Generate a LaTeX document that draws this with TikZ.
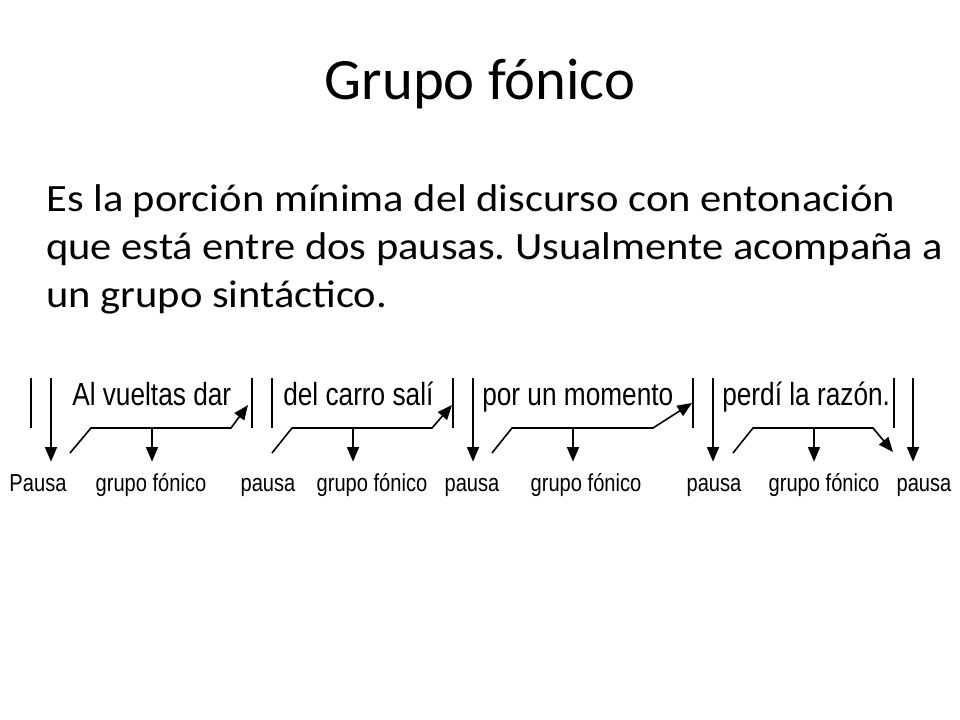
\documentclass[tikz,border=0pt]{standalone}
\usepackage{fontspec}
\setmainfont{Carlito}
\newfontfamily\cuerpo[FakeStretch=1.10]{Carlito}
\newfontfamily\diagfont[FakeStretch=0.82]{Liberation Sans}
\usetikzlibrary{arrows.meta}
\frenchspacing
\tikzset{%
  titulo/.style={anchor=base,inner sep=0pt,font=\fontsize{44}{52}\selectfont},
  linea/.style={anchor=base west,inner sep=0pt,font=\cuerpo\fontsize{29}{35}\selectfont},
  etiqueta/.style={anchor=base,inner xsep=0pt,inner ysep=8.8pt,text height=13pt,
    font=\diagfont\fontsize{18.4}{20}\selectfont},
  frase/.style={anchor=base west,inner sep=0pt,font=\diagfont\fontsize{24}{28}\selectfont},
  barra/.style={line width=1.2pt},
  flecha/.style={line width=1.2pt,-{Triangle[length=11pt,width=9pt]}},
  tramo/.style={flecha,line join=miter}
}

\begin{document}
\begin{tikzpicture}[x=0.75pt,y=-0.75pt]
  \useasboundingbox (0,0) rectangle (960,720);

  \node [titulo] (tit) at (480,100) {Grupo fónico};
  \node [linea]  (l1)  at (46,212) {Es la porción mínima del discurso con entonación};
  \node [linea]  (l2)  at (46,260) {que está entre dos pausas. Usualmente acompaña a};
  \node [linea]  (l3)  at (46,307) {un grupo sintáctico.};

  \node [etiqueta] (p0) at (38,491)  {Pausa};
  \node [etiqueta] (g1) at (151,491) {grupo fónico};
  \node [etiqueta] (p1) at (268,491) {pausa};
  \node [etiqueta] (g2) at (372,491) {grupo fónico};
  \node [etiqueta] (p2) at (472,491) {pausa};
  \node [etiqueta] (g3) at (586,491) {grupo fónico};
  \node [etiqueta] (p3) at (714,491) {pausa};
  \node [etiqueta] (g4) at (824,491) {grupo fónico};
  \node [etiqueta] (p4) at (924,491) {pausa};

  \node [frase] (f1) at (72,405)  {Al vueltas dar};
  \node [frase] (f2) at (283,405) {del carro salí};
  \node [frase] (f3) at (482,405) {por un momento};
  \node [frase] (f4) at (722,405) {perdí la razón.};

  \coordinate (b0) at (31,378);
  \coordinate (b1) at (252,378);
  \coordinate (b2) at (272,378);
  \coordinate (b3) at (453,378);
  \coordinate (b4) at (693,378);
  \coordinate (b5) at (894,378);
  \draw [barra] (b0) -- ++(0,50);
  \draw [barra] (b1) -- ++(0,50);
  \draw [barra] (b2) -- ++(0,50);
  \draw [barra] (b3) -- ++(0,50);
  \draw [barra] (b4) -- ++(0,50);
  \draw [barra] (b5) -- ++(0,50);

  \coordinate (a0) at (51,378);
  \coordinate (a2) at (473,378);
  \coordinate (a3) at (713,378);
  \coordinate (a4) at (913,378);
  \draw [flecha] (a0) -- (a0 |- p0.north);
  \draw [flecha] (a2) -- (a2 |- p2.north);
  \draw [flecha] (a3) -- (a3 |- p3.north);
  \draw [flecha] (a4) -- (a4 |- p4.north);

  \coordinate (i1) at (70,453);
  \coordinate (i2) at (272,453);
  \coordinate (i3) at (492,453);
  \coordinate (i4) at (733,453);
  \coordinate (e1) at (248,405);
  \coordinate (e2) at (452,405);
  \coordinate (e3) at (692,403);
  \coordinate (e4) at (893,452);
  \draw [tramo] (i1) -- (91,428) -- (231,428) -- (e1);
  \draw [tramo] (i2) -- (292,428) -- (432,428) -- (e2);
  \draw [tramo] (i3) -- (512,428) -- (653,428) -- (e3);
  \draw [tramo] (i4) -- (753,428) -- (873,428) -- (e4);

  \coordinate (m1) at (152,428);
  \coordinate (m2) at (353,428);
  \coordinate (m3) at (573,428);
  \coordinate (m4) at (814,428);
  \draw [flecha] (m1) -- (m1 |- g1.north);
  \draw [flecha] (m2) -- (m2 |- g2.north);
  \draw [flecha] (m3) -- (m3 |- g3.north);
  \draw [flecha] (m4) -- (m4 |- g4.north);
\end{tikzpicture}
\end{document}
